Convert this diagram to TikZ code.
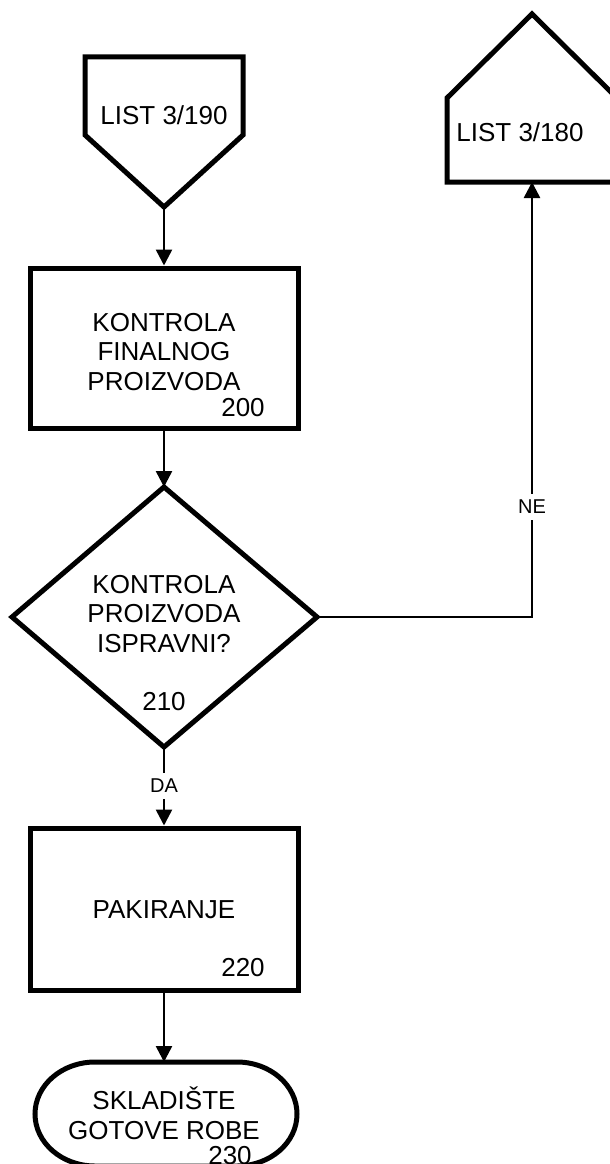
\documentclass[tikz,border=0pt]{standalone}
\usepackage{fontspec}
\setmainfont{Liberation Sans}
\usetikzlibrary{arrows.meta}
\begin{document}
\begin{tikzpicture}[x=1pt,y=-1pt,
  shapeline/.style={line width=5pt, line join=miter},
  conn/.style={line width=2.5pt},
  arr/.style={conn,-{Triangle[length=16pt,width=16pt]}},
  txt/.style={font=\fontsize{26}{29.5}\selectfont, align=center, inner sep=0pt},
  lbl/.style={font=\fontsize{20}{22}\selectfont, inner xsep=3pt, inner ysep=6pt, fill=white},
  boxnode/.style={draw, shapeline, minimum width=268pt, inner sep=0pt}
]
\useasboundingbox (0,0) rectangle (610,1164);
\clip (0,0) rectangle (610,1164);

% top off-page connector
\draw[shapeline] (85,57) -- (243,57) -- (243,135) -- (164,207) -- (85,135) -- cycle;
\coordinate (p190) at (164,207);
\node[txt] (t190) at (164,115) {LIST 3/190};

% box 200
\node[boxnode, minimum height=160pt] (b200) at (164,348) {};
\node[txt] (t200) at (164,352) {KONTROLA\\FINALNOG\\PROIZVODA};
\node[txt] (n200) at (243,408) {200};

% diamond 210
\coordinate (dt) at (164,487);
\coordinate (dr) at (317,617);
\coordinate (db) at (164,747);
\coordinate (dl) at (12,617);
\draw[shapeline] (dt) -- (dr) -- (db) -- (dl) -- cycle;
\node[txt] (t210) at (164,614) {KONTROLA\\PROIZVODA\\ISPRAVNI?};
\node[txt] (n210) at (164,702) {210};

% box 220
\node[boxnode, minimum height=162pt] (b220) at (164,909) {};
\node[txt] (t220) at (164,910) {PAKIRANJE};
\node[txt] (n220) at (243,968) {220};

% terminal 230
\draw[shapeline] (95,1062) -- (237,1062) arc(-90:90:60 and 52) -- (95,1166) arc(90:270:60 and 52) -- cycle;
\coordinate (term) at (164,1062);
\node[txt] (t230) at (164,1113) {SKLADIŠTE\\GOTOVE ROBE};
\node[txt] (n230) at (230,1156) {230};

% right off-page connector
\draw[shapeline] (447,98) -- (532,14) -- (617,98) -- (617,182) -- (447,182) -- cycle;
\coordinate (p180) at (532,182);
\node[txt] (t180) at (520,132) {LIST 3/180};

% connectors
\draw[arr] (p190) -- (b200.north);
\draw[arr] (b200.south) -- (dt);
\node[lbl] (da) at (164,786) {DA};
\draw[conn] (db) -- (da.north);
\draw[arr] (da.south) -- (b220.north);
\draw[arr] (b220.south) -- (term);
\node[lbl] (ne) at (532,507) {NE};
\draw[conn] (dr) -| (ne.south);
\draw[arr] (ne.north) -- (p180);
\end{tikzpicture}
\end{document}
